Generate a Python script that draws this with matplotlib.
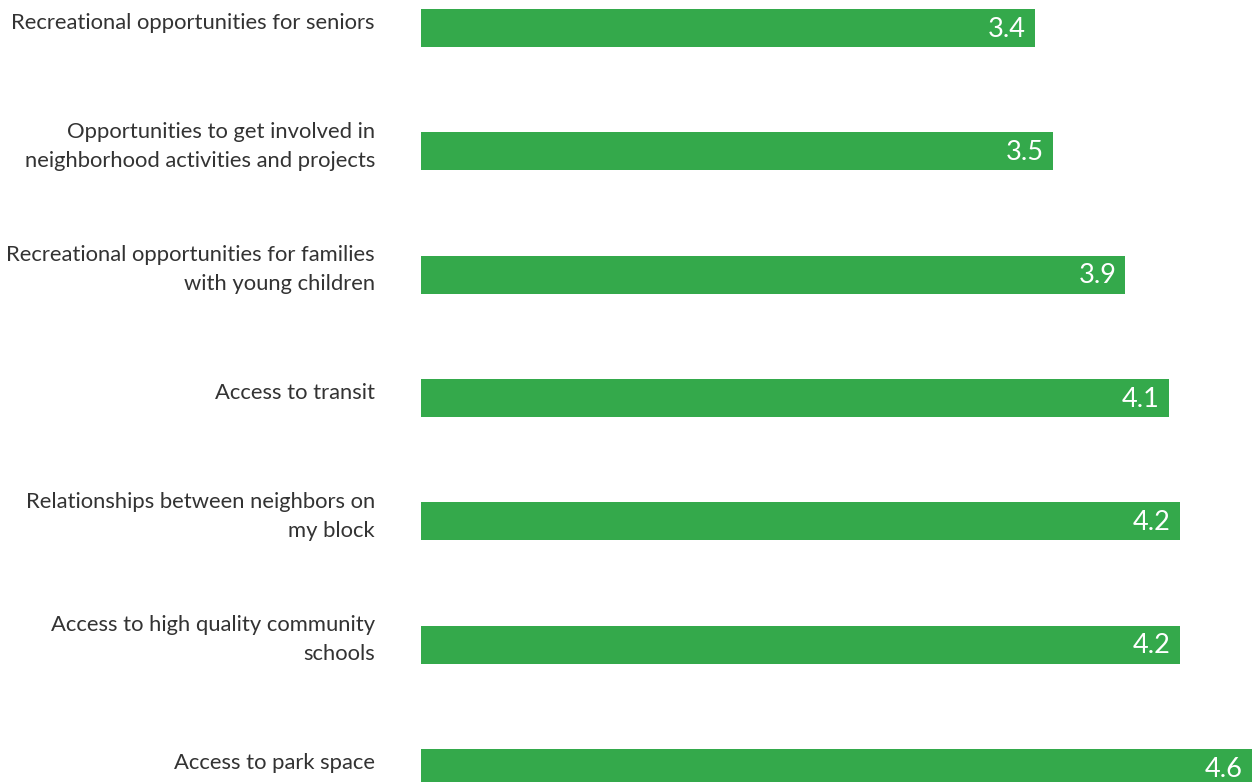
import matplotlib
matplotlib.use("Agg")
import matplotlib.pyplot as plt

categories = [
    "Recreational opportunities for seniors",
    "Opportunities to get involved in\nneighborhood activities and projects",
    "Recreational opportunities for families\nwith young children",
    "Access to transit",
    "Relationships between neighbors on\nmy block",
    "Access to high quality community\nschools",
    "Access to park space",
]
scores = [3.4, 3.5, 3.9, 4.14, 4.2, 4.2, 4.6]
value_labels = [f"{v:.1f}" for v in scores]

BAR_COLOR = "#34a94b"
TEXT_COLOR = "#333333"
FONT = "Lato"

fig = plt.figure(figsize=(12.54, 7.82), dpi=100)
ax = fig.add_axes([421 / 1254, 0, 833 / 1254, 1])

positions = list(range(len(categories)))
ax.barh(positions, scores, height=0.31, color=BAR_COLOR)

ax.set_xlim(0, 4.612)
ax.set_ylim(6.114, -0.227)

for y, v, lab in zip(positions, scores, value_labels):
    ax.text(v - 0.05, y + 0.01, lab, ha="right", va="center", color="white",
            fontsize=19.5, family=FONT)

for y, cat in zip(positions, categories):
    ax.text(-0.255, y - 0.04, cat, ha="right", va="center", color=TEXT_COLOR,
            fontsize=15.8, family=FONT, linespacing=1.55)

ax.axis("off")
fig.savefig("out.png", dpi=100)
